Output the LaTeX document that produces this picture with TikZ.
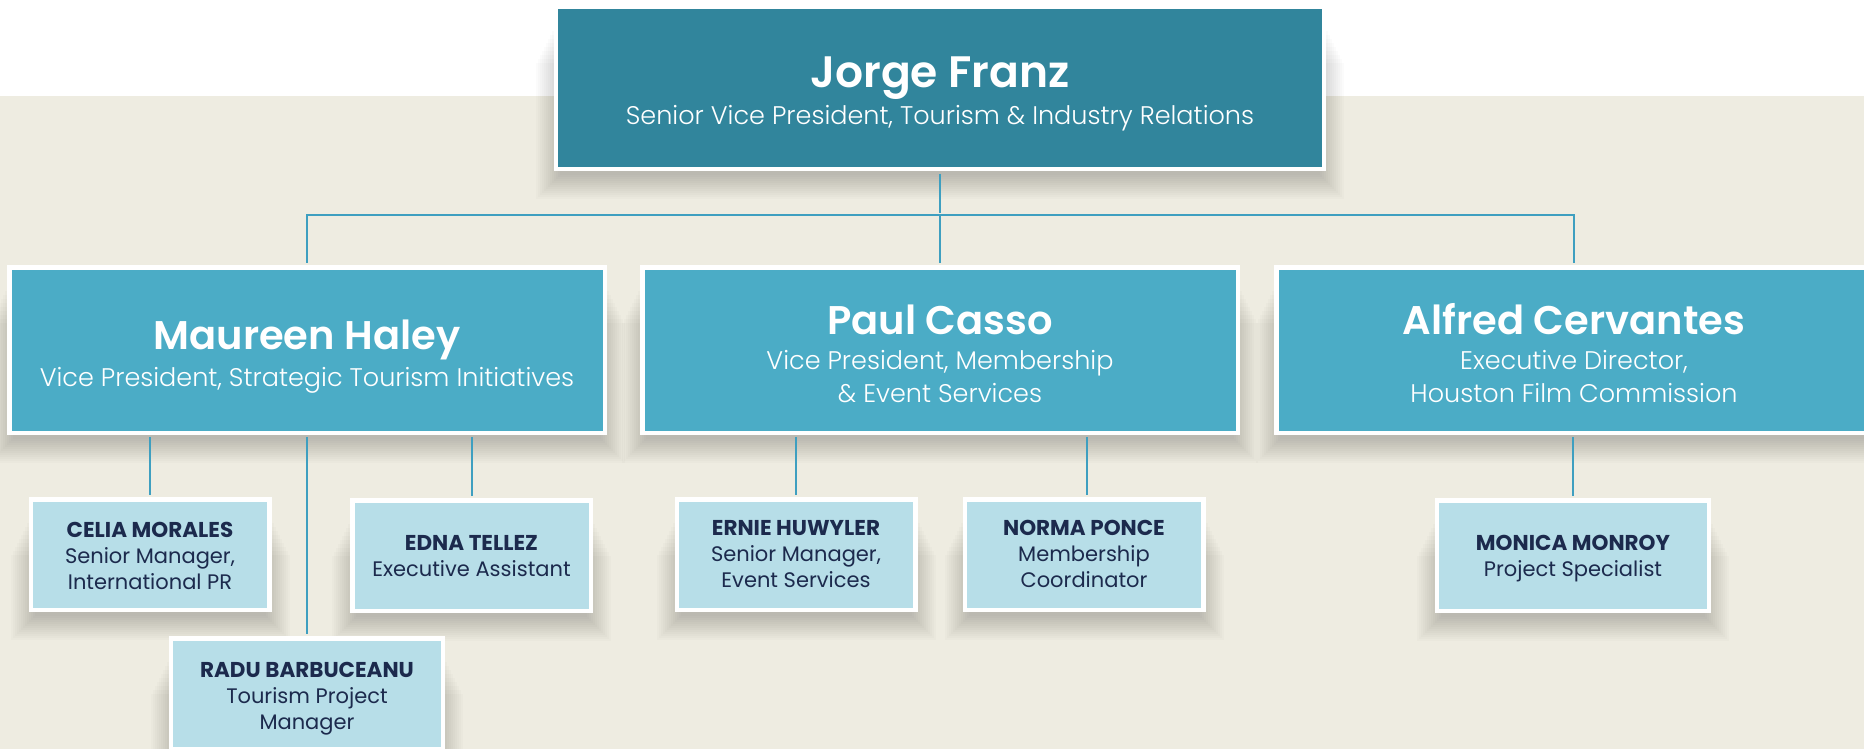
\documentclass[tikz,border=0pt]{standalone}
\usepackage{fontspec}
\setmainfont{Poppins}
\newfontfamily\lightfont{Poppins Light}
\usetikzlibrary{calc}
\definecolor{bgbeige}{HTML}{EEECE1}
\definecolor{topteal}{HTML}{31859C}
\definecolor{midteal}{HTML}{4BACC6}
\definecolor{lowteal}{HTML}{B7DEE8}
\definecolor{navy}{HTML}{1C2A4D}
\definecolor{linkc}{HTML}{3E9FC0}
\pgfdeclarelayer{bg}
\pgfdeclarelayer{shadowl}
\pgfdeclarelayer{fg}
\pgfsetlayers{bg,shadowl,main,fg}
\newcommand\toptitle[1]{{\fontsize{44}{44}\selectfont\bfseries #1}}
\newcommand\bigtitle[1]{{\fontsize{40}{40}\selectfont\bfseries #1}}
\newcommand\smallname[1]{{\fontsize{21.5}{22}\selectfont\bfseries #1}}
\newcommand\softshadow[1]{%
  \foreach \d in {0,2,...,24}{%
    \fill[black, opacity=0.016] ($(#1.south west)+(6-\d,4+\d)$) rectangle ($(#1.north east)+(\d-6,10+2*\d)$);
  }}
\tikzset{
  boxbase/.style={draw=white, line width=4.5pt, inner sep=0pt, align=center, text depth=0pt},
  topbox/.style={boxbase, fill=topteal, text=white, minimum width=768pt, minimum height=162pt,
    font=\lightfont\fontsize{25.5}{33}\selectfont},
  vpbox/.style={boxbase, fill=midteal, text=white, minimum width=595.5pt, minimum height=165.5pt,
    font=\lightfont\fontsize{25.5}{33}\selectfont},
  staffbox/.style={boxbase, fill=lowteal, text=navy, minimum width=238.5pt, minimum height=110.5pt,
    font=\fontsize{21}{26}\selectfont},
  widestaff/.style={staffbox, minimum width=272pt},
  link/.style={draw=linkc, line width=2pt, shorten <=2.3pt, shorten >=2.3pt},
}
\begin{document}
\begin{tikzpicture}[x=1pt,y=-1pt]
\useasboundingbox (0,0) rectangle (1864,749);
\clip (0,0) rectangle (1864,749);
\begin{pgfonlayer}{bg}
\fill[white] (0,0) rectangle (1864,749);
\fill[bgbeige] (0,96) rectangle (1864,749);
\end{pgfonlayer}

\node[topbox, text height=74pt] (jorge) at (940,88) {\toptitle{Jorge Franz}\\[4pt]Senior Vice President, Tourism \& Industry Relations};

\node[vpbox, text height=73.4pt] (maureen) at (307,350) {\bigtitle{Maureen Haley}\\[4pt]Vice President, Strategic Tourism Initiatives};
\node[vpbox, text height=105.4pt] (paul) at (940,350) {\bigtitle{Paul Casso}\\[2pt]Vice President, Membership\\\& Event Services};
\node[vpbox, text height=105.4pt] (alfred) at (1574,350) {\bigtitle{Alfred Cervantes}\\[2pt]Executive Director,\\Houston Film Commission};

\node[staffbox, text height=69pt] (celia) at (150,554.5) {\smallname{CELIA MORALES}\\Senior Manager,\\International PR};
\node[staffbox, text height=42.4pt] (edna) at (471.5,555.5) {\smallname{EDNA TELLEZ}\\Executive Assistant};
\node[widestaff, text height=71pt] (radu) at (307,693.5) {\smallname{RADU BARBUCEANU}\\Tourism Project\\Manager};
\node[staffbox, text height=66.4pt] (ernie) at (796,554.5) {\smallname{ERNIE HUWYLER}\\Senior Manager,\\Event Services};
\node[staffbox, text height=66.4pt] (norma) at (1084,554.5) {\smallname{NORMA PONCE}\\Membership\\Coordinator};
\node[widestaff, text height=42.4pt] (monica) at (1573,555.5) {\smallname{MONICA MONROY}\\Project Specialist};

\begin{pgfonlayer}{shadowl}
\foreach \n in {jorge,maureen,paul,alfred,celia,edna,radu,ernie,norma,monica}{\softshadow{\n}}
\end{pgfonlayer}

\coordinate (bus) at (940,215);
\begin{pgfonlayer}{fg}
\draw[link] (jorge.south) -- (jorge.south |- bus);
\draw[link, shorten <=0pt] (paul.north |- bus) -- (paul.north);
\draw[link] (maureen.north) -- (maureen.north |- bus) -- (alfred.north |- bus) -- (alfred.north);
\draw[link] (maureen.south -| celia.north) -- (celia.north);
\draw[link] (maureen.south -| edna.north) -- (edna.north);
\draw[link] (maureen.south) -- (radu.north);
\draw[link] (paul.south -| ernie.north) -- (ernie.north);
\draw[link] ([xshift=3pt]paul.south -| norma.north) -- ([xshift=3pt]norma.north);
\draw[link] (alfred.south -| monica.north) -- (monica.north);
\end{pgfonlayer}
\end{tikzpicture}
\end{document}
